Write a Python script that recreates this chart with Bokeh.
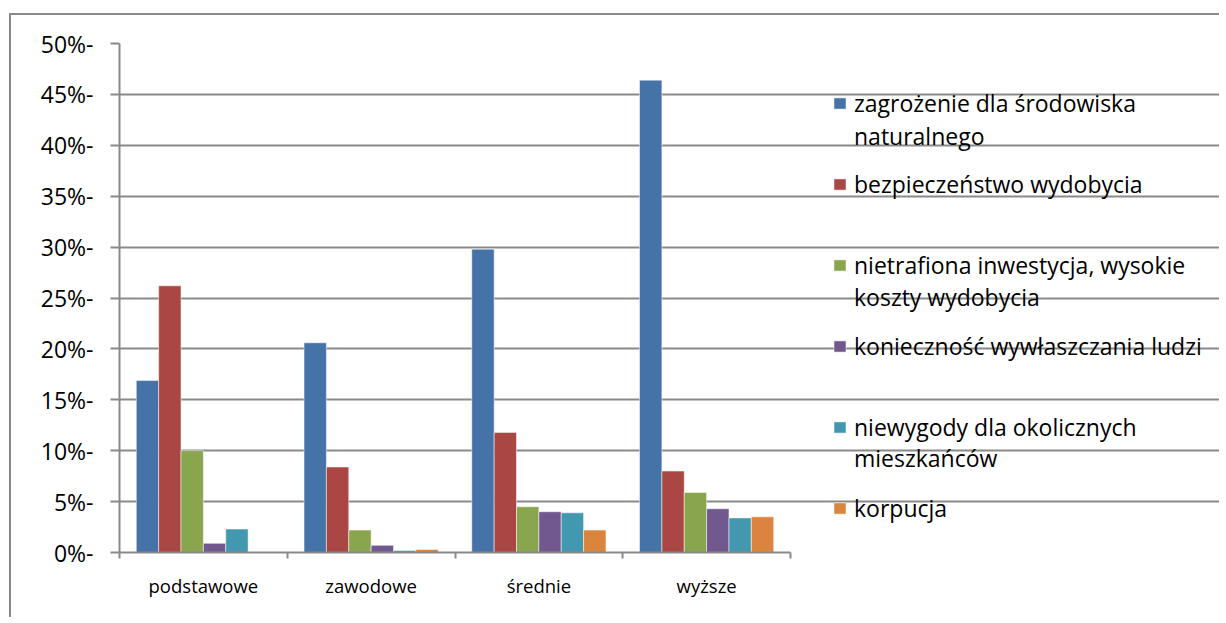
from bokeh.plotting import figure
from bokeh.models import Range1d, FixedTicker, Legend, LegendItem, ColumnDataSource
from bokeh.embed import file_html
from bokeh.resources import INLINE

categories = ["podstawowe", "zawodowe", "średnie", "wyższe"]
series_first_lines = [
    "zagrożenie dla środowiska",
    "bezpieczeństwo wydobycia",
    "nietrafiona inwestycja, wysokie",
    "konieczność wywłaszczania ludzi",
    "niewygody dla okolicznych",
    "korpucja",
]
series_second_lines = ["naturalnego", "koszty wydobycia", "mieszkańców"]
zagrozenie = [16.9, 20.6, 29.8, 46.4]
bezpieczenstwo = [26.2, 8.4, 11.8, 8.0]
nietrafiona = [10.0, 2.2, 4.5, 5.9]
koniecznosc = [0.9, 0.7, 4.0, 4.3]
niewygody = [2.3, 0.2, 3.9, 3.4]
korpucja = [0.0, 0.3, 2.2, 3.5]
series_values = [zagrozenie, bezpieczenstwo, nietrafiona, koniecznosc, niewygody, korpucja]
colors = ["#4572A7", "#AA4643", "#89A54E", "#71588F", "#4198AF", "#DB843D"]
y_ticks = [0, 5, 10, 15, 20, 25, 30, 35, 40, 45, 50]

FONT = "Open Sans"
GRID = "#898989"

W, H = 1210, 604
LEFT, TOP = 108, 28
PLOT_W, PLOT_H = 671, 509
frame_w = W - LEFT
ncat = len(categories)
x_end = ncat * frame_w / PLOT_W  # frame extends right so the legend sits inside it

p = figure(width=W, height=H, x_range=Range1d(0, x_end), y_range=Range1d(0, 50),
           output_backend="svg", toolbar_location=None,
           min_border_left=LEFT, min_border_top=TOP, min_border_right=0,
           min_border_bottom=H - TOP - PLOT_H)
p.styles = {"margin-left": "9px", "margin-top": "13px",
            "border-left": "2px solid #898989", "border-top": "2px solid #898989"}
p.outline_line_color = None
p.background_fill_color = "white"
p.border_fill_color = "white"

n = len(series_values)
group = 0.8
bw = group / n
items = []
for j, (vals, name, col) in enumerate(zip(series_values, series_first_lines, colors)):
    xs = [i + (1 - group) / 2 + (j + 0.5) * bw for i in range(ncat)]
    src = ColumnDataSource(dict(x=xs, top=vals))
    r = p.vbar(x="x", top="top", width=bw, bottom=0, source=src, fill_color=col,
               line_color="white", line_alpha=0.5, line_width=1)
    items.append(LegendItem(label=name, renderers=[r]))

# invisible renderer used only to carry the second text lines of the legend
dummy = p.vbar(x=[], top=[], width=bw, fill_alpha=0, line_alpha=0)
items2 = [LegendItem(label=t, renderers=[dummy]) for t in series_second_lines]

# x axis
xa = p.xaxis[0]
xa.bounds = (0, ncat)
xa.ticker = FixedTicker(ticks=[i + 0.5 for i in range(ncat)],
                        minor_ticks=list(range(ncat + 1)))
xa.major_label_overrides = {i + 0.5: c for i, c in enumerate(categories)}
xa.major_tick_out = 0
xa.major_tick_in = 0
xa.minor_tick_out = 6
xa.minor_tick_in = 0
xa.minor_tick_line_color = GRID
xa.minor_tick_line_width = 2
xa.axis_line_color = GRID
xa.axis_line_width = 2
xa.major_label_text_font = FONT
xa.major_label_text_font_size = "18.5px"
xa.major_label_text_color = "#000000"
xa.major_label_standoff = 14

ya = p.yaxis[0]
ya.ticker = FixedTicker(ticks=y_ticks, minor_ticks=[])
ya.major_label_overrides = {t: f"{t}%-" for t in y_ticks}
ya.major_tick_out = 9
ya.major_tick_in = 0
ya.major_tick_line_color = GRID
ya.major_tick_line_width = 2
ya.axis_line_color = GRID
ya.axis_line_width = 2
ya.major_label_text_font = FONT
ya.major_label_text_font_size = "23px"
ya.major_label_text_color = "#000000"
ya.major_label_standoff = 17

p.xgrid.grid_line_color = None
p.ygrid.ticker = FixedTicker(ticks=y_ticks)
p.ygrid.bounds = (0, ncat)
p.ygrid.grid_line_color = GRID
p.ygrid.grid_line_width = 2


def make_legend(its, loc, spacing):
    lg = Legend(items=its, location=loc, orientation="vertical")
    lg.margin = 0
    lg.padding = 0
    lg.border_line_color = None
    lg.background_fill_alpha = 0
    lg.glyph_width = 15
    lg.glyph_height = 14
    lg.label_height = 30
    lg.label_standoff = 7
    lg.label_text_font = FONT
    lg.label_text_font_size = "23px"
    lg.label_text_line_height = 1.2
    lg.label_text_color = "#000000"
    lg.spacing = spacing
    lg.click_policy = "none"
    return lg


p.add_layout(make_legend(items, (713, 28), 49), "center")
p.add_layout(make_legend(items2, (713, 78), 129), "center")

open("out.html", "w").write(file_html(p, INLINE))
